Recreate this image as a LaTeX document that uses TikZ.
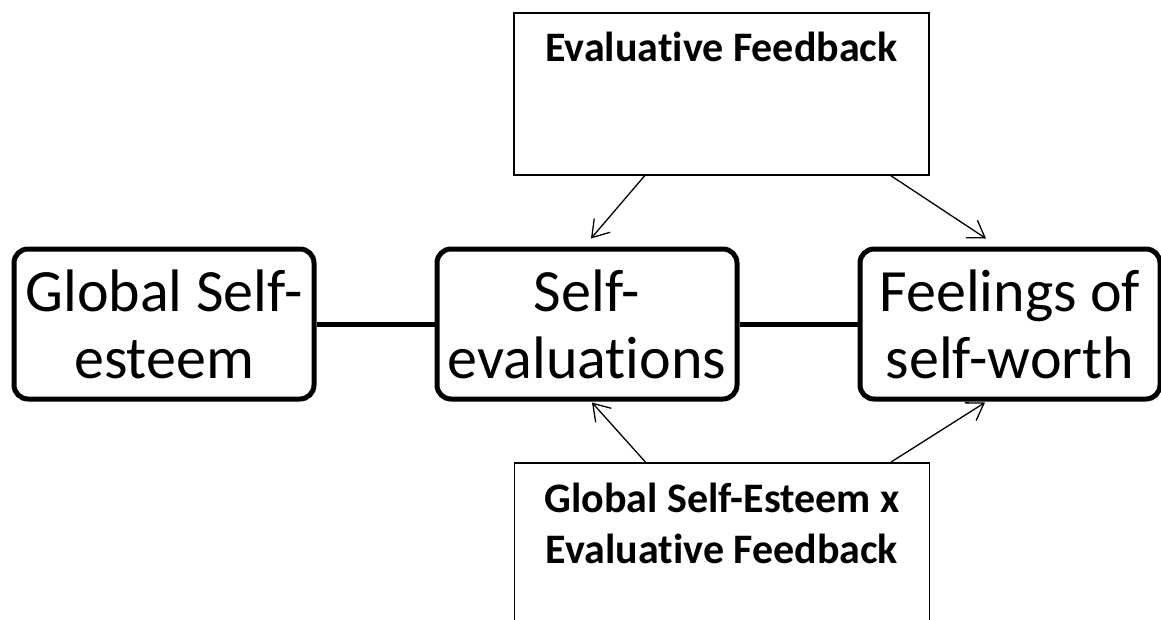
\documentclass[tikz,border=0pt]{standalone}
\usepackage{fontspec}
\setmainfont{Carlito}[Ligatures=NoCommon]
\usetikzlibrary{positioning}
\usetikzlibrary{calc}
\usetikzlibrary{arrows.meta}

\begin{document}
\begin{tikzpicture}
  [x=1pt, y=-1pt, node distance=118pt,
   varbox/.style = {draw, line width=5pt, rounded corners=14pt, align=center,
     inner sep=0pt, minimum width=300pt, minimum height=150pt,
     font=\fontsize{60}{67}\selectfont},
   fbbox/.style = {draw, line width=1.5pt, align=center, inner sep=0pt,
     minimum width=415pt, font=\fontsize{42}{51}\selectfont\bfseries},
   link/.style = {line width=5pt},
   infl/.style = {line width=1.3pt, -{Straight Barb[length=16pt, width=21pt]}}]
  \useasboundingbox (0,0) rectangle (1161,619);

  \node[varbox] (se) at (587,324) {Self-\\evaluations};
  \node[varbox] (gse) [left=of se] {Global Self-\\esteem};
  \node[varbox] (fw) [right=of se] {Feelings of\\self-worth};
  \node[fbbox, anchor=north, text height=49pt, text depth=113pt] (fb) at (721.5,12)
    {Evaluative Feedback};
  \node[fbbox, anchor=north, text height=101pt, text depth=61pt] (fbx) at (722,462)
    {Global Self-Esteem x\\Evaluative Feedback};

  \draw[link] (gse) -- (se);
  \draw[link] (se) -- (fw);

  \draw[infl] ($(fb.south west)!0.316!(fb.south east)$) -- ([xshift=4pt, yshift=8pt]se.north);
  \draw[infl] ($(fb.south west)!0.906!(fb.south east)$) -- ([xshift=-24pt, yshift=8pt]fw.north);
  \draw[infl] ($(fbx.north west)!0.316!(fbx.north east)$) -- ([xshift=5pt, yshift=-1pt]se.south);
  \draw[infl] ($(fbx.north west)!0.906!(fbx.north east)$) -- ([xshift=-25pt, yshift=-1pt]fw.south);
\end{tikzpicture}
\end{document}
